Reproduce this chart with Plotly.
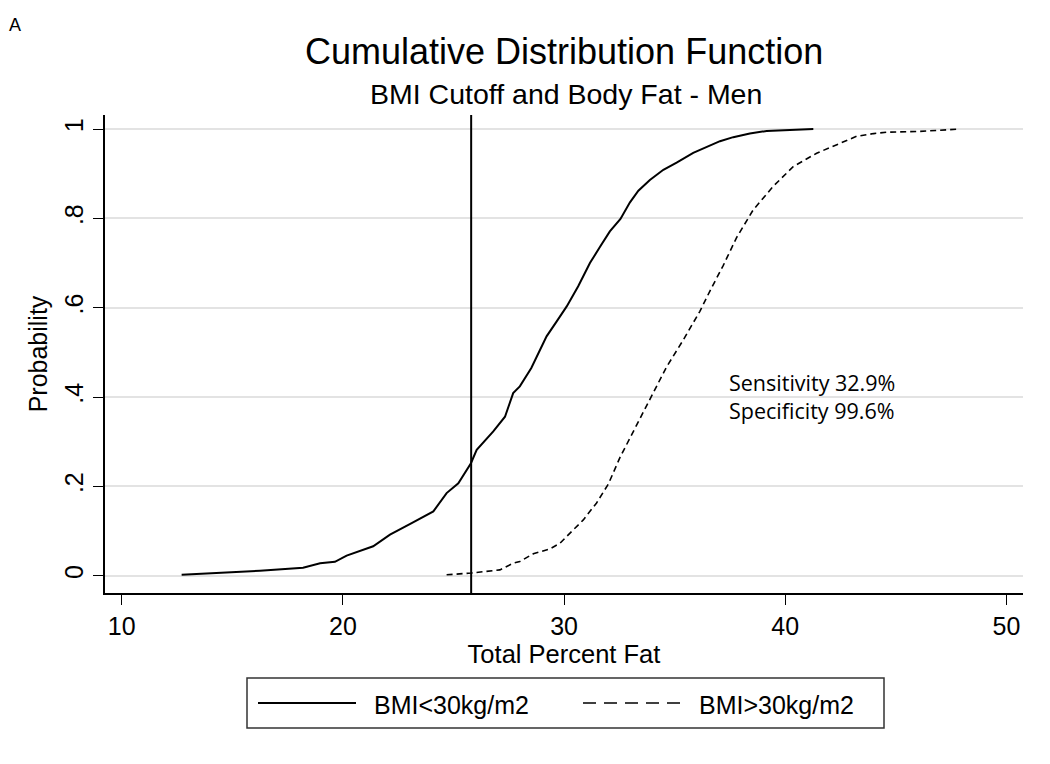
import plotly.graph_objects as go

# ---- data ----
x_low = [12.71, 14.6, 16.25, 18.2, 18.97, 19.64, 20.17, 21.37, 22.13, 23.11, 24.09, 24.69,
         25.22, 25.79, 26.05, 26.80, 27.33, 27.70, 28.0, 28.52, 29.21, 29.66, 30.12, 30.64,
         31.17, 31.62, 32.07, 32.55, 32.98, 33.36, 33.88, 34.49, 35.09, 35.84, 36.45, 37.05,
         37.65, 38.4, 39.16, 40.36, 41.27]
y_low = [0.002, 0.007, 0.011, 0.018, 0.028, 0.031, 0.045, 0.066, 0.092, 0.118, 0.144, 0.185,
         0.207, 0.252, 0.282, 0.323, 0.356, 0.409, 0.424, 0.465, 0.536, 0.569, 0.603, 0.648,
         0.700, 0.736, 0.771, 0.799, 0.836, 0.862, 0.886, 0.909, 0.925, 0.947, 0.961, 0.973,
         0.982, 0.990, 0.996, 0.999, 1.0]

x_high = [24.69, 25.79, 27.1, 27.7, 28.0, 28.61, 29.36, 29.82, 30.12, 30.57, 30.87, 31.47,
          32.0, 32.53, 33.0, 33.43, 34.03, 34.64, 35.39, 36.14, 36.6, 37.2, 37.8, 38.55,
          39.46, 40.36, 41.42, 42.47, 43.23, 44.0, 44.58, 46.09, 47.9]
y_high = [0.002, 0.006, 0.013, 0.028, 0.032, 0.049, 0.060, 0.073, 0.088, 0.110, 0.125, 0.163,
          0.205, 0.265, 0.310, 0.352, 0.408, 0.468, 0.528, 0.592, 0.638, 0.695, 0.757, 0.819,
          0.872, 0.916, 0.946, 0.969, 0.984, 0.990, 0.993, 0.995, 1.0]

cutoff = 25.8
series_names = ["BMI<30kg/m2", "BMI>30kg/m2"]
x_ticks = [10, 20, 30, 40, 50]
y_ticks = [0, 0.2, 0.4, 0.6, 0.8, 1]
y_ticklabels = ["0", ".2", ".4", ".6", ".8", "1"]
note_lines = ["Sensitivity 32.9%", "Specificity 99.6%"]
title_text = "Cumulative Distribution Function"
subtitle_text = "BMI Cutoff and Body Fat - Men"

FONT = "Liberation Sans, Arial, sans-serif"
NOTE_FONT = "Open Sans, Lato, sans-serif"

# plot area in page pixels (body has an 8px margin)
PL, PR, PT, PB = 105, 1023, 115, 593
PW, PH = PR - PL, PB - PT


def px(X):
    return (X - PL) / PW


def py(Y):
    return (PB - Y) / PH


fig = go.Figure()
fig.add_trace(go.Scatter(x=x_low, y=y_low, mode="lines", name=series_names[0],
                         line=dict(color="black", width=2), showlegend=False))
fig.add_trace(go.Scatter(x=x_high, y=y_high, mode="lines", name=series_names[1],
                         line=dict(color="black", width=1.6, dash="6px,4px"), showlegend=False))

# vertical cutoff line
fig.add_shape(type="line", xref="x", yref="paper", x0=cutoff, x1=cutoff, y0=0, y1=1,
              line=dict(color="black", width=2))

# sensitivity / specificity text
fig.add_annotation(x=px(727), y=py(396), xref="paper", yref="paper", xanchor="left",
                   yanchor="middle", text="<br>".join(note_lines), showarrow=False,
                   align="left", font=dict(family=NOTE_FONT, size=21.5, color="black"))

# titles
fig.add_annotation(x=px(564), y=py(51), xref="paper", yref="paper", xanchor="center",
                   yanchor="middle", text=title_text, showarrow=False,
                   font=dict(family=FONT, size=36, color="black"))
fig.add_annotation(x=px(566), y=py(94), xref="paper", yref="paper", xanchor="center",
                   yanchor="middle", text=subtitle_text, showarrow=False,
                   font=dict(family=FONT, size=28.5, color="black"))

# legend (custom box)
fig.add_shape(type="rect", xref="paper", yref="paper",
              x0=px(247), x1=px(884), y0=py(728), y1=py(678),
              line=dict(color="#333333", width=1.5), fillcolor="white")
fig.add_shape(type="line", xref="paper", yref="paper",
              x0=px(258), x1=px(356), y0=py(703), y1=py(703),
              line=dict(color="black", width=2))
fig.add_shape(type="line", xref="paper", yref="paper",
              x0=px(583), x1=px(681), y0=py(703), y1=py(703),
              line=dict(color="black", width=1.6, dash="13px,8px"))
fig.add_annotation(x=px(372), y=py(705), xref="paper", yref="paper",
                   xanchor="left", yanchor="middle", text=series_names[0], showarrow=False,
                   font=dict(family=FONT, size=25, color="black"))
fig.add_annotation(x=px(697), y=py(705), xref="paper", yref="paper",
                   xanchor="left", yanchor="middle", text=series_names[1], showarrow=False,
                   font=dict(family=FONT, size=25, color="black"))

# panel letter
fig.add_annotation(x=px(15), y=py(25), xref="paper", yref="paper", text="A", showarrow=False,
                   xanchor="center", yanchor="middle",
                   font=dict(family=FONT, size=18, color="black"))

fig.update_layout(
    width=1050, height=764,
    paper_bgcolor="white", plot_bgcolor="white",
    margin=dict(l=PL - 8, r=1050 - (PL - 8) - PW, t=PT - 8, b=764 - (PT - 8) - PH),
    font=dict(family=FONT, color="black"),
)
fig.update_xaxes(range=[9.245, 50.75], tickvals=x_ticks, ticks="outside", ticklen=10,
                 tickwidth=1.2, tickcolor="black", showline=True, linecolor="black", linewidth=1.5,
                 showgrid=False, zeroline=False, tickfont=dict(size=25),
                 title=dict(text="Total Percent Fat", font=dict(size=25.5), standoff=0))
fig.update_yaxes(range=[-0.0387, 1.0316], tickvals=y_ticks, ticktext=y_ticklabels,
                 ticks="outside", ticklen=10, tickwidth=1.2, tickcolor="black", tickangle=-90,
                 showline=True, linecolor="black", linewidth=1.5,
                 showgrid=True, gridcolor="#e3e3e3", gridwidth=1.5, zeroline=False,
                 tickfont=dict(size=25),
                 title=dict(text="Probability", font=dict(size=25), standoff=6))

fig.write_html("out.html")
